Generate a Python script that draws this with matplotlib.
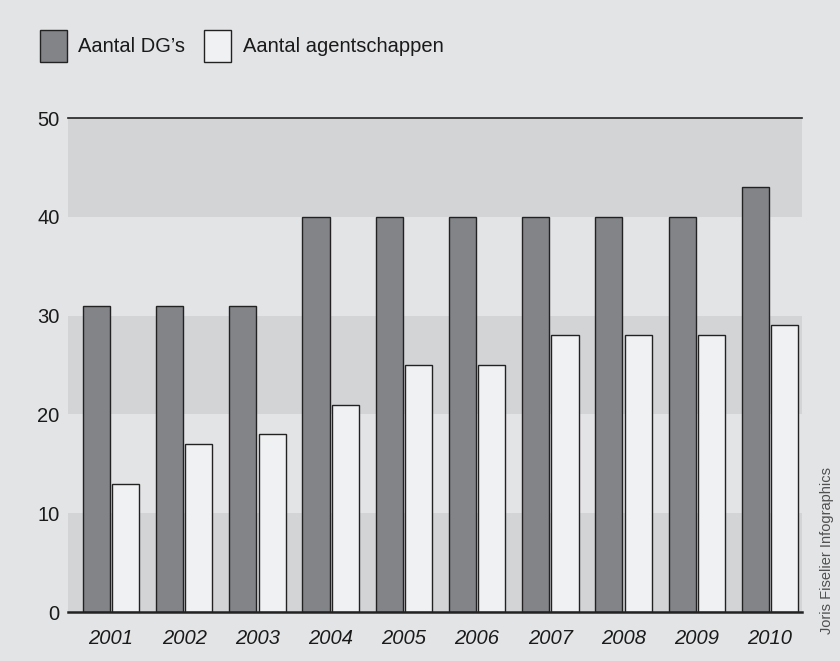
import matplotlib
matplotlib.use("Agg")
import matplotlib.pyplot as plt
import numpy as np
from matplotlib.patches import Rectangle

years = ["2001", "2002", "2003", "2004", "2005", "2006", "2007", "2008", "2009", "2010"]
dgs = [31, 31, 31, 40, 40, 40, 40, 40, 40, 43]
agentschappen = [13, 17, 18, 21, 25, 25, 28, 28, 28, 29]
yticks = [0, 10, 20, 30, 40, 50]
label_dg = "Aantal DG\u2019s"
label_ag = "Aantal agentschappen"
credit = "Joris Fiselier Infographics"

FONT = ["Liberation Sans Narrow", "Liberation Sans", "DejaVu Sans"]
plt.rcParams['font.family'] = FONT

bg = "#e3e4e6"
band = "#d3d4d6"
dark = "#838488"
light = "#f0f1f2"

fig = plt.figure(figsize=(8.4, 6.61), dpi=100, facecolor=bg)
ax = fig.add_axes([68/840, 49/661, (802-68)/840, (612-118)/661])
ax.set_facecolor(bg)

for lo in (0, 20, 40):
    ax.axhspan(lo, lo + 10, color=band, lw=0, zorder=0)

x = np.arange(len(years))
w = 0.37
ax.bar(x - 0.2, dgs, width=w, color=dark, edgecolor="#222222", linewidth=1.0, zorder=2)
ax.bar(x + 0.2, agentschappen, width=w, color=light, edgecolor="#222222", linewidth=1.0, zorder=2)

ax.set_xlim(-0.587, 9.437)
ax.set_ylim(0, 50)
ax.axhline(50, color="#222222", lw=1.2, zorder=3, clip_on=False)
ax.axhline(0, color="#222222", lw=1.8, zorder=3, clip_on=False)
for s in ax.spines.values():
    s.set_visible(False)

ax.set_yticks(yticks)
ax.set_yticklabels([str(t) for t in yticks], fontsize=14.5, color="#1a1a1a")
ax.set_xticks(x)
ax.set_xticklabels(years, fontsize=14.5, style="italic", color="#1a1a1a")
ax.tick_params(axis="both", length=0)
ax.tick_params(axis="y", pad=6)
ax.tick_params(axis="x", pad=12)

# legend
fig.patches.append(Rectangle((40/840, 1 - 62/661), 27/840, 32/661, transform=fig.transFigure,
                             facecolor=dark, edgecolor="#222222", lw=1.0))
fig.text(78/840, 1 - 47/661, label_dg, fontsize=14.5, va="center", ha="left", color="#1a1a1a")
fig.patches.append(Rectangle((204/840, 1 - 62/661), 27/840, 32/661, transform=fig.transFigure,
                             facecolor=light, edgecolor="#222222", lw=1.0))
fig.text(243/840, 1 - 47/661, label_ag, fontsize=14.5, va="center", ha="left", color="#1a1a1a")

fig.text(827/840, 1 - 551/661, credit, rotation=90, fontsize=10.5, va="center", ha="center", color="#505050")

fig.savefig("out.png", dpi=100, facecolor=bg)
